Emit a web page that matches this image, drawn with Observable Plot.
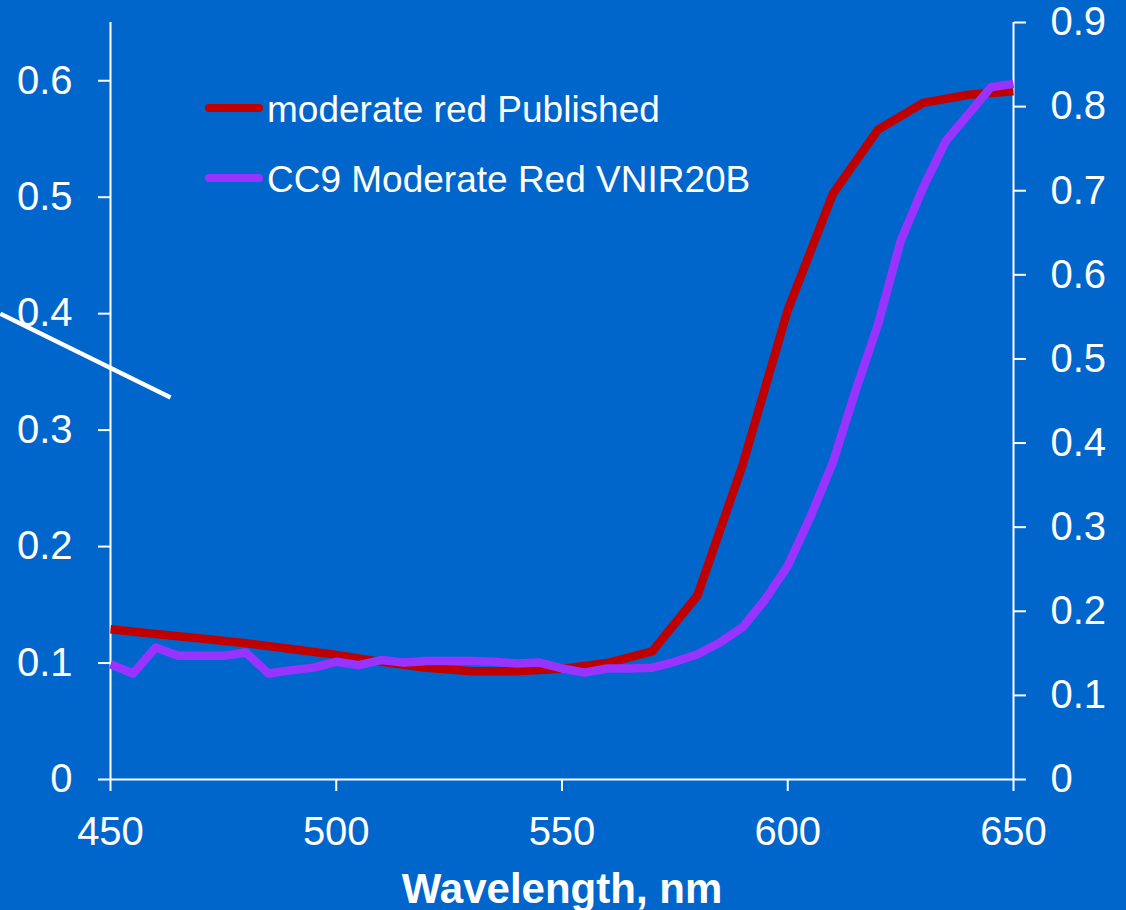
<!DOCTYPE html>
<html>
<head>
<meta charset="utf-8">
<script src="https://cdn.jsdelivr.net/npm/d3@7"></script>
<script src="https://cdn.jsdelivr.net/npm/@observablehq/plot@0.6"></script>
<style>
  html, body { margin: 0; padding: 0; background: #0066CC; }
  #chart { position: relative; width: 1126px; height: 910px; font-family: "Liberation Sans", Arial, sans-serif; }
  #chart svg { display: block; }
  .legend { position: absolute; left: 205px; top: 73px; color: #fff; font-size: 37px; }
  .legend .row { display: flex; align-items: center; height: 70px; white-space: nowrap; }
  .legend .swatch { width: 58px; height: 8px; border-radius: 4px; margin-right: 4px; }
  .legend .name { position: relative; top: 2px; }
</style>
</head>
<body>
<div id="chart"></div>
<script>
// Published reflectance (left axis), 10 nm steps
const publishedWavelength = [450, 460, 470, 480, 490, 500, 510, 520, 530, 540, 550, 560, 570, 580, 590, 600, 610, 620, 630, 640, 650];
const publishedValue = [0.129, 0.125, 0.121, 0.117, 0.112, 0.107, 0.101, 0.096, 0.093, 0.093, 0.095, 0.100, 0.110, 0.158, 0.270, 0.403, 0.503, 0.558, 0.581, 0.588, 0.591];

// VNIR20B measurement (right axis), 5 nm steps
const vnirWavelength = [450, 455, 460, 465, 470, 475, 480, 485, 490, 495, 500, 505, 510, 515, 520, 525, 530, 535, 540, 545, 550, 555, 560, 565, 570, 575, 580, 585, 590, 595, 600, 605, 610, 615, 620, 625, 630, 635, 640, 645, 650];
const vnirValue = [0.137, 0.126, 0.157, 0.147, 0.147, 0.147, 0.151, 0.126, 0.130, 0.133, 0.140, 0.136, 0.142, 0.139, 0.141, 0.141, 0.141, 0.140, 0.138, 0.139, 0.132, 0.127, 0.132, 0.132, 0.133, 0.140, 0.149, 0.163, 0.181, 0.214, 0.254, 0.312, 0.377, 0.462, 0.541, 0.640, 0.704, 0.759, 0.791, 0.823, 0.827];

const seriesNames = ["moderate red Published", "CC9 Moderate Red VNIR20B"];
const seriesColors = ["#C00000", "#9933FF"];

const xTicks = [450, 500, 550, 600, 650];
const leftTicks = [0, 0.1, 0.2, 0.3, 0.4, 0.5, 0.6];
const rightTicks = [0, 0.1, 0.2, 0.3, 0.4, 0.5, 0.6, 0.7, 0.8, 0.9];
const xLabel = "Wavelength, nm";

const xDomain = [450, 650];
const leftMax = 0.65;
const rightMax = 0.9;

// White pointer stroke at the left edge (wavelength, left-axis value)
const pointerWavelength = [425.6, 463.3];
const pointerValue = [0.400, 0.328];

// Right-axis values are drawn in left-axis units
const k = leftMax / rightMax;
const fmt = d => d === 0 ? "0" : d.toFixed(1);

const published = publishedWavelength.map((w, i) => ({wavelength: w, value: publishedValue[i]}));
const vnir = vnirWavelength.map((w, i) => ({wavelength: w, value: vnirValue[i]}));
const pointer = pointerWavelength.map((w, i) => ({wavelength: w, value: pointerValue[i]}));

const chart = Plot.plot({
  width: 1126,
  height: 910,
  marginLeft: 110,
  marginRight: 113,
  marginTop: 22,
  marginBottom: 131,
  style: {background: "transparent", color: "white", fontFamily: "'Liberation Sans', Arial, sans-serif", overflow: "visible"},
  x: {domain: xDomain, axis: null},
  y: {domain: [0, leftMax], axis: null},
  marks: [
    // axis lines
    Plot.ruleX([xDomain[0]], {y1: 0, y2: leftMax, stroke: "white", strokeWidth: 2}),
    Plot.ruleX([xDomain[1]], {y1: 0, y2: leftMax, stroke: "white", strokeWidth: 2}),
    Plot.ruleY([0], {x1: xDomain[0], x2: xDomain[1], stroke: "white", strokeWidth: 2}),
    Plot.axisX(xTicks, {anchor: "bottom", tickSize: 12, tickPadding: 25, fontSize: 40, strokeWidth: 2, text: d => String(d), label: null}),
    Plot.axisY(leftTicks, {anchor: "left", tickSize: 12, tickPadding: 26, fontSize: 40, strokeWidth: 2, text: fmt, label: null}),
    Plot.axisY(rightTicks, {anchor: "right", y: d => d * k, tickSize: 12, tickPadding: 25, fontSize: 40, strokeWidth: 2, text: fmt, label: null}),
    Plot.text([xLabel], {frameAnchor: "bottom", dy: 123, lineAnchor: "bottom", fontSize: 42, fontWeight: "bold", fill: "white"}),
    // series
    Plot.line(published, {x: "wavelength", y: "value", stroke: seriesColors[0], strokeWidth: 8.5, strokeLinecap: "butt"}),
    Plot.line(vnir, {x: "wavelength", y: d => d.value * k, stroke: seriesColors[1], strokeWidth: 8.5, strokeLinecap: "butt"}),
    // pointer
    Plot.line(pointer, {x: "wavelength", y: "value", stroke: "white", strokeWidth: 4.5, strokeLinecap: "butt"})
  ]
});

const root = document.getElementById("chart");
root.appendChild(chart);

const legend = document.createElement("div");
legend.className = "legend";
seriesNames.forEach((name, i) => {
  const row = document.createElement("div");
  row.className = "row";
  const sw = document.createElement("span");
  sw.className = "swatch";
  sw.style.background = seriesColors[i];
  const label = document.createElement("span");
  label.className = "name";
  label.textContent = name;
  row.appendChild(sw);
  row.appendChild(label);
  legend.appendChild(row);
});
root.appendChild(legend);
</script>
</body>
</html>
